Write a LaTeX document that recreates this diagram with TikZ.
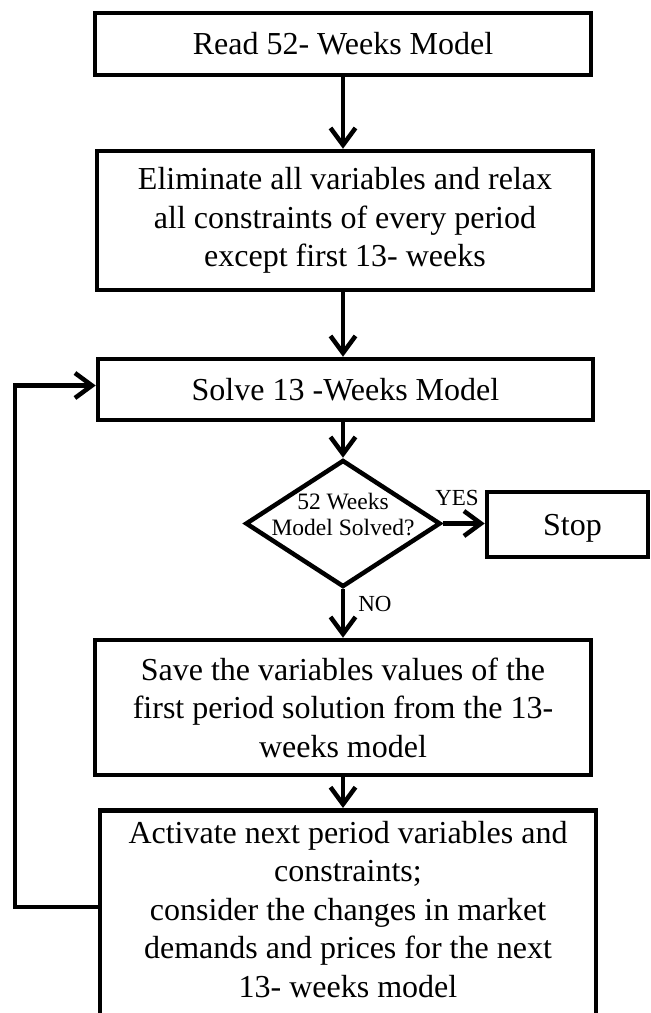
\documentclass[tikz,border=0pt]{standalone}
\usepackage{fontspec}
\setmainfont{Liberation Serif}
\usetikzlibrary{shapes.geometric,arrows.meta}
\begin{document}
\begin{tikzpicture}[x=1pt,y=-1pt,
  box/.style={draw, line width=4.5pt, align=center, inner sep=0pt, font=\fontsize{32}{38.5}\selectfont},
  dia/.style={draw, diamond, line width=4.5pt, inner sep=0pt, minimum width=195pt, minimum height=127pt, font=\fontsize{23.5}{26}\selectfont},
  conn/.style={line width=4.5pt, -{Straight Barb[length=17pt,width=25pt,line width=4.5pt]}},
  lbl/.style={inner sep=0pt, font=\fontsize{23}{26}\selectfont}]
\useasboundingbox (0,0) rectangle (651,1013);
\clip (0,0) rectangle (651,1013);

\node[box, minimum width=496pt, minimum height=62pt] (read) at (343,44) {Read 52- Weeks Model};
\node[box, minimum width=496pt, minimum height=139pt] (elim) at (345,220.5)
  {Eliminate all variables and relax\\all constraints of every period\\except first 13- weeks};
\node[box, minimum width=495pt, minimum height=61pt] (solve) at (345.5,389.5) {Solve 13 -Weeks Model};
\node[dia] (dec) at (343,523.5)
  {\smash{\makebox[0pt]{\begin{tabular}{@{}c@{}}52 Weeks\\Model Solved?\end{tabular}}}};
\node[box, minimum width=161pt, minimum height=65pt, text depth=0pt] (stop) at (567.5,524.5) {\hspace{10pt}Stop};
\node[box, minimum width=496pt, minimum height=135pt] (save) at (343,707.5)
  {Save the variables values of the\\first period solution from the 13-\\weeks model};
\node[box, inner xsep=8pt, inner ysep=11pt, anchor=north] (act) at (348,808)
  {\begin{minipage}[t][215pt][t]{480pt}\centering
   Activate next period variables and\\constraints;\\consider the changes in market\\demands and prices for the next\\13- weeks model\end{minipage}};

\coordinate (lp) at (15,907);

\draw[conn] (read.south) -- (read.south |- elim.north);
\draw[conn] (read.south |- elim.south) -- (read.south |- solve.north);
\draw[conn] (read.south |- solve.south) -- (dec.north);
\draw[conn] (dec.east) -- (dec.east -| stop.west)
  node[lbl, above=16pt, pos=0.34] {YES};
\draw[conn] (dec.south) -- (dec.south |- save.north)
  node[lbl, right=13pt, pos=0.3] {NO};
\draw[conn] (dec.south |- save.south) -- (dec.south |- act.north);
\draw[conn] (act.west |- lp) -- (lp) |- ([yshift=4pt]solve.west);
\end{tikzpicture}
\end{document}
